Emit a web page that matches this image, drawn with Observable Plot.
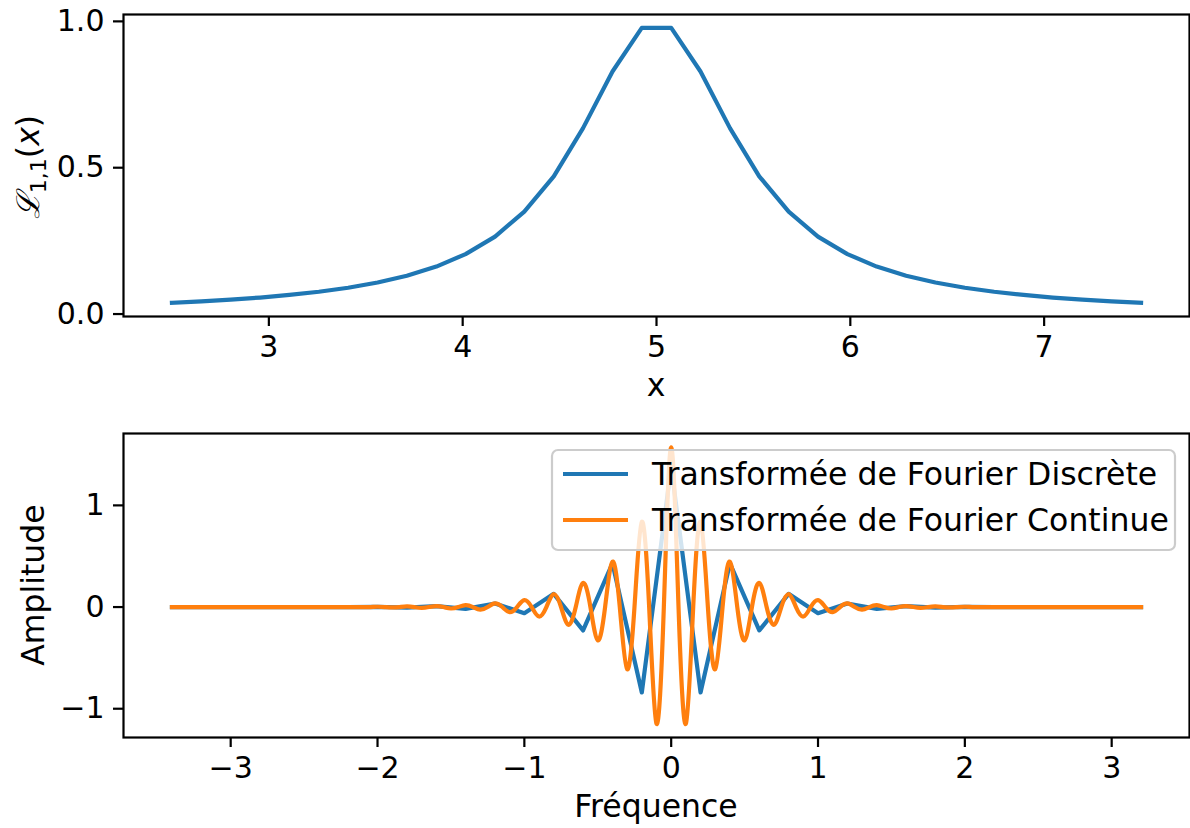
<!DOCTYPE html>
<html>
<head>
<meta charset="utf-8">
<script src="https://cdn.jsdelivr.net/npm/d3@7"></script>
<script src="https://cdn.jsdelivr.net/npm/@observablehq/plot@0.6"></script>
<style>
  html, body { margin: 0; padding: 0; background: #fff; }
  #chart svg { display: block; }
  [aria-label="x-axis tick"], [aria-label="y-axis tick"] { stroke-width: 2.2px; }
</style>
</head>
<body>
<div id="chart"></div>
<script>
// ---- Top panel: sampled Lorentzian L_{1,1}(x)
const xSamples = [2.5, 2.652, 2.803, 2.955, 3.106, 3.258, 3.409, 3.561, 3.712, 3.864, 4.015, 4.167, 4.318, 4.470, 4.621, 4.773, 4.924, 5.076, 5.227, 5.379, 5.530, 5.682, 5.833, 5.985, 6.136, 6.288, 6.439, 6.591, 6.742, 6.894, 7.045, 7.197, 7.348, 7.5];
const lorentz = [0.0385, 0.0434, 0.0492, 0.0564, 0.0652, 0.0761, 0.0899, 0.1077, 0.1310, 0.1622, 0.2049, 0.2647, 0.3497, 0.4706, 0.6353, 0.8288, 0.9776, 0.9776, 0.8288, 0.6353, 0.4706, 0.3497, 0.2647, 0.2049, 0.1622, 0.1310, 0.1077, 0.0899, 0.0761, 0.0652, 0.0564, 0.0492, 0.0434, 0.0385];
const topXTicks = [3, 4, 5, 6, 7];
const topYTicks = [0, 0.5, 1.0];

// ---- Bottom panel: discrete Fourier transform (real part)
const freqD = [-3.4, -3.2, -3.0, -2.8, -2.6, -2.4, -2.2, -2.0, -1.8, -1.6, -1.4, -1.2, -1.0, -0.8, -0.6, -0.4, -0.2, 0, 0.2, 0.4, 0.6, 0.8, 1.0, 1.2, 1.4, 1.6, 1.8, 2.0, 2.2, 2.4, 2.6, 2.8, 3.0, 3.2];
const ampD = [0, 0, 0, 0, 0, 0, 0, 0.002, -0.005, 0.009, -0.018, 0.035, -0.06, 0.13, -0.23, 0.43, -0.84, 1.38, -0.84, 0.43, -0.23, 0.13, -0.06, 0.035, -0.018, 0.009, -0.005, 0.002, 0, 0, 0, 0, 0, 0];

// ---- Bottom panel: continuous Fourier transform (real part)
const freqC = [-3.4,-3.35,-3.3,-3.25,-3.2,-3.15,-3.1,-3.05,-3,-2.95,-2.9,-2.85,-2.8,-2.75,-2.7,-2.65,-2.6,-2.55,-2.5,-2.45,-2.4,-2.35,-2.3,-2.25,-2.2,-2.15,-2.1,-2.05,
  -2,-1.95,-1.9,-1.85,-1.8,-1.75,-1.7,-1.65,-1.6,-1.55,-1.5,-1.45,-1.4,-1.35,-1.3,-1.25,-1.2,-1.15,-1.1,-1.05,-1,-0.95,-0.9,-0.85,-0.8,-0.75,-0.7,-0.65,-0.6,-0.55,-0.5,-0.45,-0.4,-0.35,-0.3,-0.25,-0.2,-0.15,-0.1,-0.05,
  0,
  0.05,0.1,0.15,0.2,0.25,0.3,0.35,0.4,0.45,0.5,0.55,0.6,0.65,0.7,0.75,0.8,0.85,0.9,0.95,1,1.05,1.1,1.15,1.2,1.25,1.3,1.35,1.4,1.45,1.5,1.55,1.6,1.65,1.7,1.75,1.8,1.85,1.9,1.95,2,
  2.05,2.1,2.15,2.2,2.25,2.3,2.35,2.4,2.45,2.5,2.55,2.6,2.65,2.7,2.75,2.8,2.85,2.9,2.95,3,3.05,3.1,3.15,3.2];
const ampC = [0,0,0,0,0,0,0,0,0,0,0,0,0,0,0,0,0,0,0,0,0,0,0,0,0,0,0,0,
  0.003,0,-0.004,0,0.006,0,-0.008,0,0.010,0,-0.014,0,0.019,0,-0.026,0,0.036,0,-0.050,0,0.068,0,-0.093,0,0.127,0,-0.174,0,0.238,0,-0.327,0,0.447,0,-0.612,0,0.838,0,-1.147,0,
  1.571,
  0,-1.147,0,0.838,0,-0.612,0,0.447,0,-0.327,0,0.238,0,-0.174,0,0.127,0,-0.093,0,0.068,0,-0.050,0,0.036,0,-0.026,0,0.019,0,-0.014,0,0.010,0,-0.008,0,0.006,0,-0.004,0,0.003,
  0,0,0,0,0,0,0,0,0,0,0,0,0,0,0,0,0,0,0,0,0,0,0,0];
const botXTicks = [-3, -2, -1, 0, 1, 2, 3];
const botYTicks = [-1, 0, 1];
const seriesNames = ["Transformée de Fourier Discrète", "Transformée de Fourier Continue"];
const colors = ["#1f77b4", "#ff7f0e"];

const FONT = "DejaVu Sans, sans-serif";
const TICK_FS = 30, LABEL_FS = 31.5;
const intFmt = d3.format("d");

const topData = xSamples.map((x, i) => ({x, y: lorentz[i]}));
const dftData = freqD.map((f, i) => ({f, a: ampD[i]}));
const ctData = freqC.map((f, i) => ({f, a: ampC[i]}));

const styleCommon = {fontFamily: FONT, fontSize: TICK_FS + "px", color: "#000", background: "#fff", overflow: "visible"};

const topChart = Plot.plot({
  width: 1190, height: 420,
  marginLeft: 123, marginRight: 1, marginTop: 14, marginBottom: 104,
  style: styleCommon,
  x: {domain: [2.25, 7.75], ticks: topXTicks, tickFormat: intFmt, tickSize: 10, tickPadding: 9, label: null},
  y: {domain: [-0.0084, 1.0235], ticks: topYTicks, tickFormat: d3.format(".1f"), tickSize: 10, tickPadding: 9, label: null},
  marks: [
    Plot.line(topData, {x: "x", y: "y", stroke: colors[0], strokeWidth: 4.2, strokeLinejoin: "round", strokeLinecap: "square"}),
    Plot.frame({stroke: "#000", strokeWidth: 2.2})
  ]
});

const bottomChart = Plot.plot({
  width: 1190, height: 408,
  marginLeft: 123, marginRight: 1, marginTop: 13, marginBottom: 91,
  style: styleCommon,
  x: {domain: [-3.73, 3.53], ticks: botXTicks, tickFormat: intFmt, tickSize: 10, tickPadding: 9, label: null},
  y: {domain: [-1.283, 1.707], ticks: botYTicks, tickFormat: intFmt, tickSize: 10, tickPadding: 9, label: null},
  marks: [
    Plot.line(dftData, {x: "f", y: "a", stroke: colors[0], strokeWidth: 4.2, strokeLinejoin: "round", strokeLinecap: "square"}),
    Plot.line(ctData, {x: "f", y: "a", stroke: colors[1], strokeWidth: 4.2, strokeLinejoin: "round", strokeLinecap: "square", curve: "natural"}),
    Plot.frame({stroke: "#000", strokeWidth: 2.2})
  ]
});

const chart = document.getElementById("chart");
chart.appendChild(topChart);
chart.appendChild(bottomChart);

// ---- Axis labels
const st = d3.select(topChart);
st.append("text").attr("x", 656).attr("y", 396).attr("text-anchor", "middle")
  .attr("font-family", FONT).attr("font-size", LABEL_FS).attr("fill", "#000").text("x");
const yl = st.append("text").attr("transform", "translate(39,167) rotate(-90)")
  .attr("text-anchor", "middle").attr("font-family", FONT).attr("font-size", LABEL_FS).attr("fill", "#000");
yl.append("tspan").attr("font-family", "DejaVu Serif, serif").attr("font-style", "italic").text("ℒ");
yl.append("tspan").attr("font-size", 22).attr("dy", 7).text("1,1");
yl.append("tspan").attr("dy", -7).text("(");
yl.append("tspan").attr("font-style", "italic").text("x");
yl.append("tspan").text(")");

const sb = d3.select(bottomChart);
sb.append("text").attr("x", 656).attr("y", 397).attr("text-anchor", "middle")
  .attr("font-family", FONT).attr("font-size", LABEL_FS).attr("fill", "#000").text("Fréquence");
sb.append("text").attr("transform", "translate(44,165) rotate(-90)")
  .attr("text-anchor", "middle").attr("font-family", FONT).attr("font-size", LABEL_FS).attr("fill", "#000").text("Amplitude");

// ---- Legend (upper right)
const lg = sb.append("g");
lg.append("rect").attr("x", 552).attr("y", 30).attr("width", 623).attr("height", 100)
  .attr("rx", 6).attr("fill", "#fff").attr("fill-opacity", 0.8).attr("stroke", "#cccccc").attr("stroke-width", 2.2);
const rowsY = [54, 100];
seriesNames.forEach((name, i) => {
  lg.append("line").attr("x1", 563).attr("x2", 628).attr("y1", rowsY[i]).attr("y2", rowsY[i])
    .attr("stroke", colors[i]).attr("stroke-width", 4.2);
  lg.append("text").attr("x", 652).attr("y", rowsY[i] + 11).attr("text-anchor", "start").attr("font-family", FONT)
    .attr("font-size", LABEL_FS).attr("fill", "#000").text(name);
});
</script>
</body>
</html>
